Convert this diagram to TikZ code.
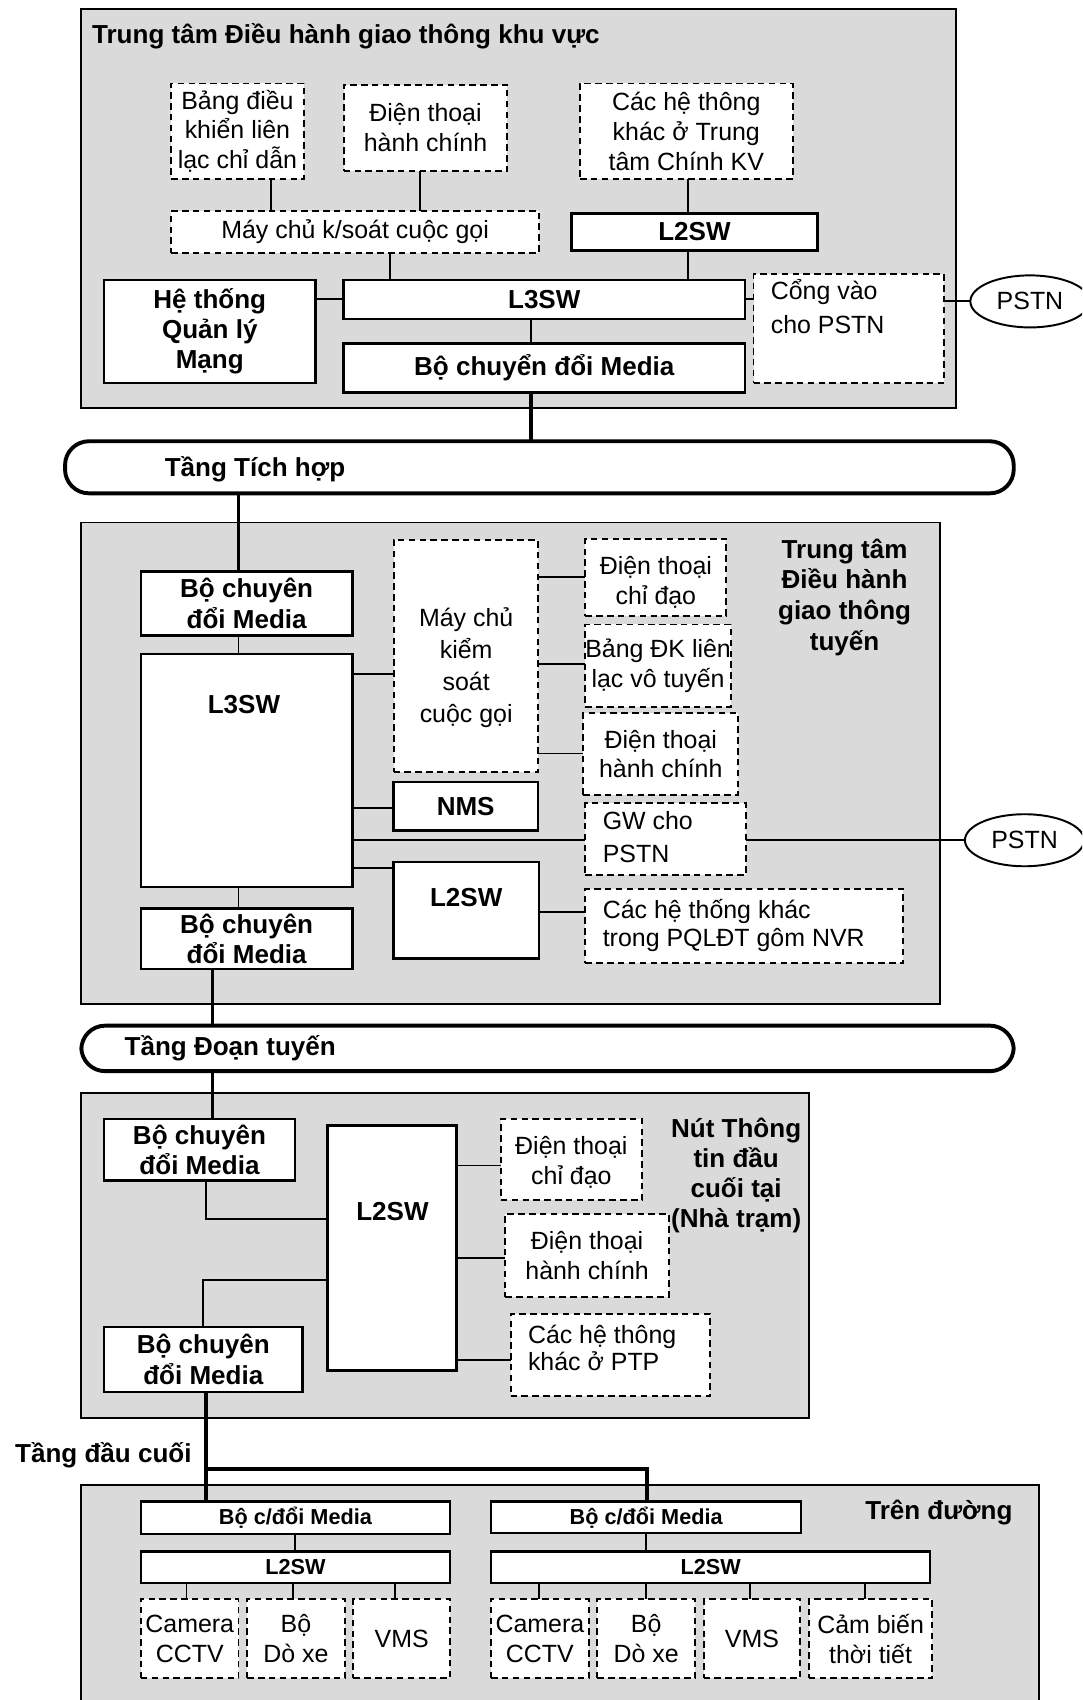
\documentclass[tikz,border=0pt]{standalone}
\usepackage{fontspec}
\setmainfont{Liberation Sans}
\usetikzlibrary{fit,shapes.geometric}
\definecolor{regiongray}{RGB}{218,218,218}
\newcommand{\boxnode}[5]{%
  \node[#1, fit={#3}] (#4) {};
  \node[#2] (#4-t) at (#4.center) {#5};}
\begin{document}
\begin{tikzpicture}[x=1pt,y=-1pt,
  every node/.style={inner sep=0pt, outer sep=0pt},
  region/.style={draw, line width=1.6pt, fill=regiongray},
  sbox/.style={draw, line width=2.2pt, fill=white},
  dbox/.style={draw, line width=1.8pt, dash pattern=on 6pt off 4pt, fill=white},
  rt/.style={font=\fontsize{23}{27.5}\selectfont, align=center},
  rtl/.style={font=\fontsize{23}{31}\selectfont, align=left},
  bt/.style={font=\fontsize{24}{28}\selectfont\bfseries, align=center},
  bts/.style={font=\fontsize{20}{24}\selectfont\bfseries, align=center},
  conn/.style={line width=1.8pt},
  trunk/.style={line width=3.6pt},
  bus/.style={draw, line width=3.6pt, fill=white, rounded corners=22pt},
  cloud/.style={draw, ellipse, line width=1.8pt, fill=white, minimum width=110pt, minimum height=48pt, font=\fontsize{23}{27}\selectfont}]
\useasboundingbox (0,0) rectangle (998,1568);
\clip (0,0) rectangle (998,1568);

% ---------------- regions ----------------
\node[region, fit={(75,8) (882,376)}] (rA) {};
\node[region, fit={(75,482) (867,926)}] (rB) {};
\node[region, fit={(75,1008) (746,1308)}] (rC) {};
\node[region, fit={(75,1370) (958,1600)}] (rD) {};

% ---------------- region A ----------------
\node[bt, anchor=west] (tA) at (85,33) {Trung tâm Điều hành giao thông khu vực};
\boxnode{dbox}{rt}{(158,77) (280,165)}{bangA}{Bảng điều\\khiển liên\\lạc chỉ dẫn}
\boxnode{dbox}{rt}{(317,78) (468,158)}{dtA}{Điện thoại\\hành chính}
\boxnode{dbox}{rt}{(535,77) (731,165)}{cacA}{Các hệ thông\\khác ở Trung\\tâm Chính KV}
\boxnode{dbox}{rt}{(158,195) (497,233)}{mayA}{Máy chủ k/soát cuộc gọi}
\boxnode{sbox}{bt}{(527,197) (754,231)}{l2A}{L2SW}
\boxnode{sbox}{bt}{(96,258) (291,353)}{nmA}{Hệ thống\\Quản lý\\Mạng}
\boxnode{sbox}{bt}{(317,258) (687,294)}{l3A}{L3SW}
\boxnode{sbox}{bt}{(317,317) (687,362)}{mcA}{Bộ chuyển đổi Media}
\node[dbox, fit={(695,253) (871,353)}] (gwA) {};
\node[rtl, anchor=north west] (gwA-t) at (711,258) {Cổng vào\\cho PSTN};
\node[cloud] (pstnA) at (950,278) {PSTN};

\draw[conn] (250,0 |- bangA.south) -- (250,0 |- mayA.north);
\draw[conn] (387,0 |- dtA.south) -- (387,0 |- mayA.north);
\draw[conn] (635,0 |- cacA.south) -- (635,0 |- l2A.north);
\draw[conn] (360,0 |- mayA.south) -- (360,0 |- l3A.north);
\draw[conn] (635,0 |- l2A.south) -- (635,0 |- l3A.north);
\draw[conn] (nmA.east |- 0,276) -- (l3A.west |- 0,276);
\draw[conn] (l3A.east |- 0,276) -- (gwA.west |- 0,276);
\draw[conn] (gwA.east |- pstnA.west) -- (pstnA.west);
\draw[conn] (490,0 |- l3A.south) -- (490,0 |- mcA.north);

% ---------------- bus 1 ----------------
\node[bus, fit={(60,407) (935,455)}] (busA) {};
\node[bt, anchor=west] (busA-t) at (152,433) {Tầng Tích hợp};
\draw[trunk] (490,0 |- mcA.south) -- (490,0 |- busA.north);

% ---------------- region B ----------------
\node[bt, font=\fontsize{24}{28.5}\selectfont\bfseries] (tB) at (779,551) {Trung tâm\\Điều hành\\giao thông\\tuyến};
\boxnode{sbox}{bt}{(130,527) (325,586)}{mcB1}{Bộ chuyên\\đổi Media}
\node[sbox, fit={(130,603) (325,818)}] (l3B) {};
\node[bt] (l3B-t) at (225,650) {L3SW};
\node[dbox, fit={(363,498) (496,712)}] (mayB) {};
\node[rt, font=\fontsize{23}{29.5}\selectfont] (mayB-t) at (430,616) {Máy chủ\\kiểm\\soát\\cuộc gọi};
\node[dbox, fit={(540,497) (670,568)}] (dtcB) {};
\node[rt] (dtcB-t) at (605,537) {Điện thoại\\chỉ đạo};
\boxnode{dbox}{rt}{(540,576) (674,652)}{bangB}{Bảng ĐK liên\\lạc vô tuyến}
\boxnode{dbox}{rt}{(538,658) (681,733)}{dthB}{Điện thoại\\hành chính}
\boxnode{sbox}{bt}{(363,721) (496,766)}{nmsB}{NMS}
\node[dbox, fit={(540,741) (688,807)}] (gwB) {};
\node[rtl, anchor=north west] (gwB-t) at (556,748) {GW cho\\PSTN};
\node[cloud] (pstnB) at (945,775) {PSTN};
\node[sbox, fit={(363,795) (497,884)}] (l2B) {};
\node[bt] (l2B-t) at (430,828) {L2SW};
\node[dbox, fit={(540,820) (833,888)}] (cacB) {};
\node[rt, align=left, font=\fontsize{23}{26}\selectfont, anchor=west] (cacB-t) at (556,854) {Các hệ thống khác\\ trong PQLĐT gôm NVR};
\boxnode{sbox}{bt}{(130,838) (325,894)}{mcB2}{Bộ chuyên\\đổi Media}

\draw[trunk] (220,0 |- busA.south) -- (220,0 |- mcB1.north);
\draw[conn] (220,0 |- mcB1.south) -- (220,0 |- l3B.north);
\draw[conn] (l3B.east |- 0,622) -- (mayB.west |- 0,622);
\draw[conn] (mayB.east |- 0,532) -- (dtcB.west |- 0,532);
\draw[conn] (mayB.east |- 0,612) -- (bangB.west |- 0,612);
\draw[conn] (mayB.east |- 0,695) -- (dthB.west |- 0,695);
\draw[conn] (l3B.east |- 0,745) -- (nmsB.west |- 0,745);
\draw[conn] (l3B.east |- 0,775) -- (gwB.west |- 0,775);
\draw[conn] (gwB.east |- pstnB.west) -- (pstnB.west);
\draw[conn] (l3B.east |- 0,801) -- (l2B.west |- 0,801);
\draw[conn] (l2B.east |- 0,841) -- (cacB.west |- 0,841);
\draw[conn] (220,0 |- l3B.south) -- (220,0 |- mcB2.north);

% ---------------- bus 2 ----------------
\node[bus, fit={(75,946) (935,988)}] (busB) {};
\node[bt, anchor=west] (busB-t) at (115,967) {Tầng Đoạn tuyến};
\draw[trunk] (196,0 |- mcB2.south) -- (196,0 |- busB.north);

% ---------------- region C ----------------
\boxnode{sbox}{bt}{(96,1032) (272,1089)}{mcC1}{Bộ chuyên\\đổi Media}
\node[sbox, fit={(302,1038) (421,1264)}] (l2C) {};
\node[bt] (l2C-t) at (362,1117) {L2SW};
\boxnode{sbox}{bt}{(96,1224) (279,1284)}{mcC2}{Bộ chuyên\\đổi Media}
\node[dbox, fit={(462,1032) (592,1107)}] (dtcC) {};
\node[rt] (dtcC-t) at (527,1072) {Điện thoại\\chỉ đạo};
\boxnode{dbox}{rt}{(466,1120) (617,1196)}{dthC}{Điện thoại\\hành chính}
\node[dbox, fit={(471,1212) (655,1288)}] (cacC) {};
\node[rt, align=left, font=\fontsize{23}{25}\selectfont, anchor=west] (cacC-t) at (487,1243) {Các hệ thông\\khác ở PTP};
\node[bt, font=\fontsize{24}{27.5}\selectfont\bfseries] (tC) at (679,1084) {Nút Thông\\tin đầu\\cuối tại\\(Nhà trạm)};

\draw[trunk] (196,0 |- busB.south) -- (196,0 |- mcC1.north);
\draw[conn] (190,0 |- mcC1.south) -- (190,1124) -- (l2C.west |- 0,1124);
\draw[conn] (187,0 |- mcC2.north) -- (187,1181) -- (l2C.west |- 0,1181);
\draw[conn] (l2C.east |- 0,1075) -- (dtcC.west |- 0,1075);
\draw[conn] (l2C.east |- 0,1160) -- (dthC.west |- 0,1160);
\draw[conn] (l2C.east |- 0,1254) -- (cacC.west |- 0,1254);

% ---------------- terminal layer ----------------
\node[bt, anchor=west] (tD0) at (14,1342) {Tầng đầu cuối};
\node[bt] (tD) at (866,1395) {Trên đường};
\boxnode{sbox}{bts}{(130,1385) (415,1415)}{mcD1}{Bộ c/đổi Media}
\boxnode{sbox}{bts}{(453,1385) (739,1414)}{mcD2}{Bộ c/đổi Media}
\boxnode{sbox}{bts}{(130,1431) (415,1460)}{l2D1}{L2SW}
\boxnode{sbox}{bts}{(453,1431) (858,1460)}{l2D2}{L2SW}
\boxnode{dbox}{rt}{(130,1475) (220,1548)}{camD1}{Camera\\CCTV}
\boxnode{dbox}{rt}{(228,1475) (318,1548)}{detD1}{Bộ\\Dò xe}
\boxnode{dbox}{rt}{(326,1475) (415,1548)}{vmsD1}{VMS}
\boxnode{dbox}{rt}{(453,1475) (543,1548)}{camD2}{Camera\\CCTV}
\boxnode{dbox}{rt}{(551,1475) (641,1548)}{detD2}{Bộ\\Dò xe}
\boxnode{dbox}{rt}{(649,1475) (738,1548)}{vmsD2}{VMS}
\boxnode{dbox}{rt}{(746,1475) (860,1548)}{senD2}{Cảm biến\\thời tiết}

\coordinate (jD) at (190,1355);
\draw[trunk] (190,0 |- mcC2.south) -- (190,0 |- mcD1.north);
\draw[trunk] (jD) -- (597,0 |- jD) -- (597,0 |- mcD2.north);
\draw[conn] (272,0 |- mcD1.south) -- (272,0 |- l2D1.north);
\draw[conn] (596,0 |- mcD2.south) -- (596,0 |- l2D2.north);
\draw[conn] (172,0 |- l2D1.south) -- (172,0 |- camD1.north);
\draw[conn] (270,0 |- l2D1.south) -- (270,0 |- detD1.north);
\draw[conn] (364,0 |- l2D1.south) -- (364,0 |- vmsD1.north);
\draw[conn] (497,0 |- l2D2.south) -- (497,0 |- camD2.north);
\draw[conn] (596,0 |- l2D2.south) -- (596,0 |- detD2.north);
\draw[conn] (692,0 |- l2D2.south) -- (692,0 |- vmsD2.north);
\draw[conn] (798,0 |- l2D2.south) -- (798,0 |- senD2.north);
\end{tikzpicture}
\end{document}
